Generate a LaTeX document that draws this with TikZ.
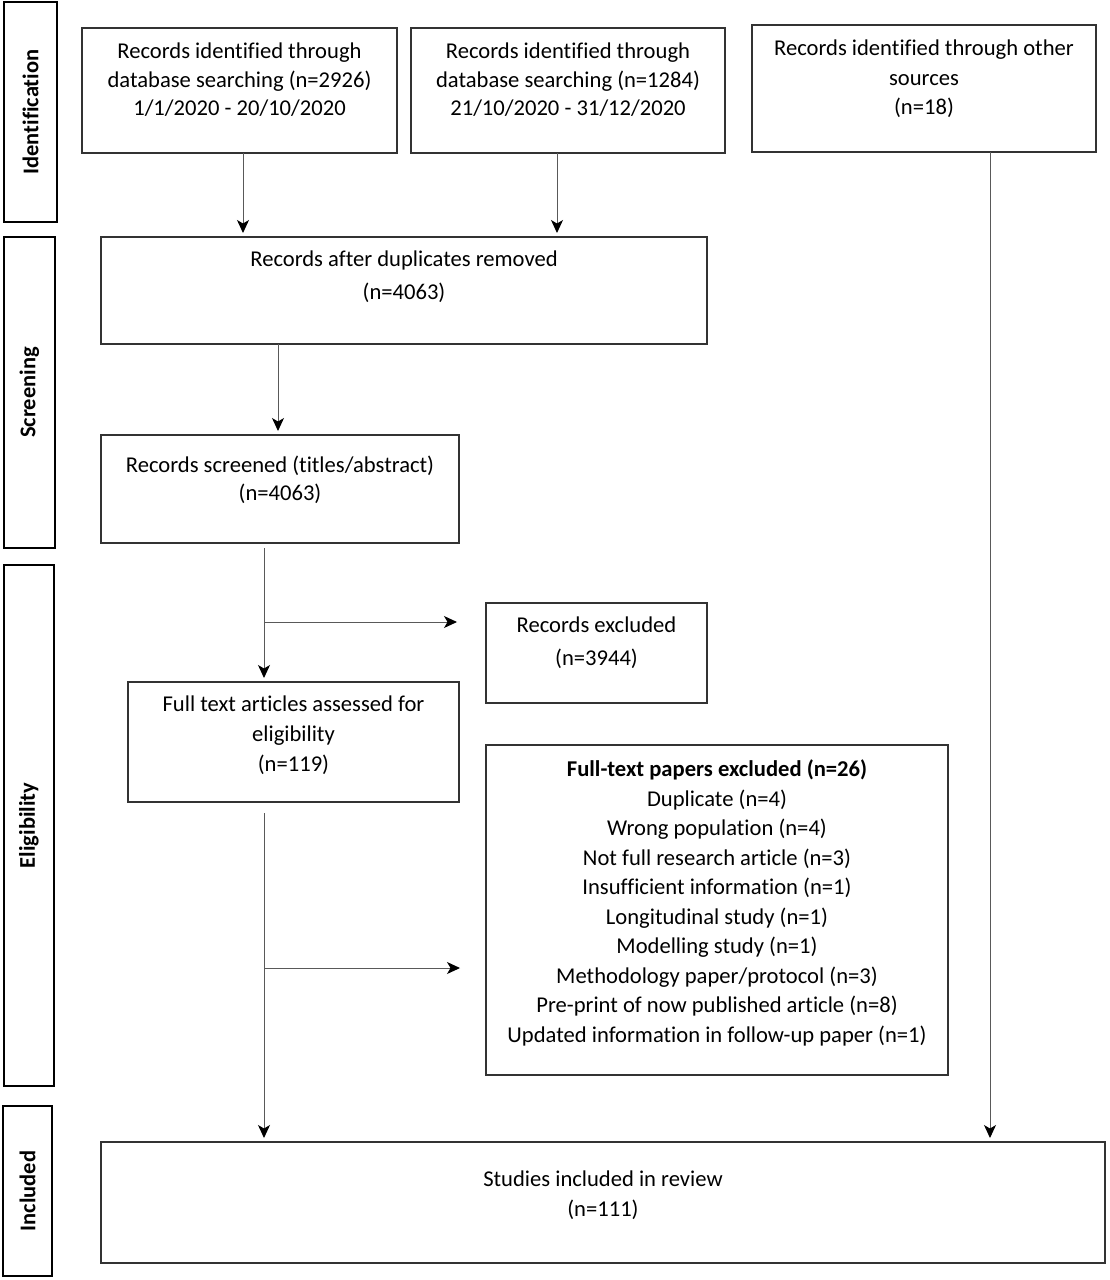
\documentclass[tikz,border=0pt]{standalone}
\usepackage{fontspec}
\setmainfont{Carlito}[Ligatures={NoCommon}]
\usetikzlibrary{arrows.meta,calc}
\newcommand\bxt[5]{\parbox[c][#2pt][t]{#1pt}{\fontsize{22.6}{#4}\selectfont\centering\vspace*{#3pt}#5}}
\begin{document}
\begin{tikzpicture}[x=1pt,y=-1pt,
  box/.style={draw=black!80, line width=1.3pt, inner sep=0pt, outer sep=0pt},
  side/.style={draw=black, line width=2.6pt, inner sep=0pt, outer sep=0pt, rotate=90,
    font=\bfseries\fontsize{22.5}{26}\selectfont},
  arr/.style={draw=black!65, line width=1pt, -{Stealth[length=13pt,width=12pt,inset=3.5pt,fill=black,color=black]}},
  ln/.style={draw=black!65, line width=1pt}]
\useasboundingbox[fill=white] (0,0) rectangle (1109,1280);

% side labels
\node[side, minimum width=220, minimum height=53] (sid) at (30.5,112) {Identification};
\node[side, minimum width=311, minimum height=51] (ssc) at (29.5,392.5) {Screening};
\node[side, minimum width=521, minimum height=50] (sel) at (29,825.5) {Eligibility};
\node[side, minimum width=170, minimum height=49] (sin) at (27.5,1191) {Included};

% boxes
\node[box] (b1) at (239.5,90.5) {\bxt{315}{125}{15}{28.5}{Records identified through\\database searching (n=2926)\\1/1/2020 - 20/10/2020}};
\node[box] (b2) at (568,90.5) {\bxt{314}{125}{15}{28.5}{Records identified through\\database searching (n=1284)\\21/10/2020 - 31/12/2020}};
\node[box] (b3) at (924,88.5) {\bxt{344}{127}{15}{29.5}{Records identified through other\\sources\\(n=18)}};
\node[box] (dd) at (404,290.5) {\bxt{606}{107}{14}{33}{Records after duplicates removed\\(n=4063)}};
\node[box] (sc) at (280,489) {\bxt{358}{108}{21}{28}{Records screened (titles/abstract)\\(n=4063)}};
\node[box] (ex) at (596.5,653) {\bxt{221}{100}{14}{33}{Records excluded\\(n=3944)}};
\node[box] (ft) at (293.5,742) {\bxt{331}{120}{14}{30}{Full text articles assessed for\\eligibility\\(n=119)}};
\node[box] (fx) at (717,910) {\bxt{462}{330}{15}{29.5}{\textbf{Full-text papers excluded (n=26)}\\Duplicate (n=4)\\Wrong population (n=4)\\Not full research article (n=3)\\Insufficient information (n=1)\\Longitudinal study (n=1)\\Modelling study (n=1)\\Methodology paper/protocol (n=3)\\Pre-print of now published article (n=8)\\Updated information in follow-up paper (n=1)}};
\node[box] (in) at (603,1202.5) {\bxt{1004}{121}{29}{30}{Studies included in review\\(n=111)}};

% branch points
\coordinate (j1) at ($(sc.south west)+(163,79)$);
\coordinate (j2) at ($(ft.south west)+(136,166)$);

% connectors
\draw[arr, shorten >=4pt] ([xshift=161pt]b1.south west) -- ([xshift=142pt]dd.north west);
\draw[arr, shorten >=4pt] ([xshift=146pt]b2.south west) -- ([xshift=456pt]dd.north west);
\draw[arr, shorten >=4pt] ([xshift=177pt]dd.south west) -- ([xshift=177pt]sc.north west);
\draw[arr, shorten <=5pt, shorten >=4pt] ([xshift=163pt]sc.south west) -- ([xshift=136pt]ft.north west);
\draw[arr, shorten >=29pt] (j1) -- (j1 -| ex.west);
\draw[arr, shorten <=11pt, shorten >=4pt] ([xshift=136pt]ft.south west) -- ([xshift=163pt]in.north west);
\draw[arr, shorten >=26pt] (j2) -- (j2 -| fx.west);
\draw[arr, shorten >=4pt] ([xshift=238pt]b3.south west) -- ([xshift=889pt]in.north west);
\end{tikzpicture}
\end{document}
